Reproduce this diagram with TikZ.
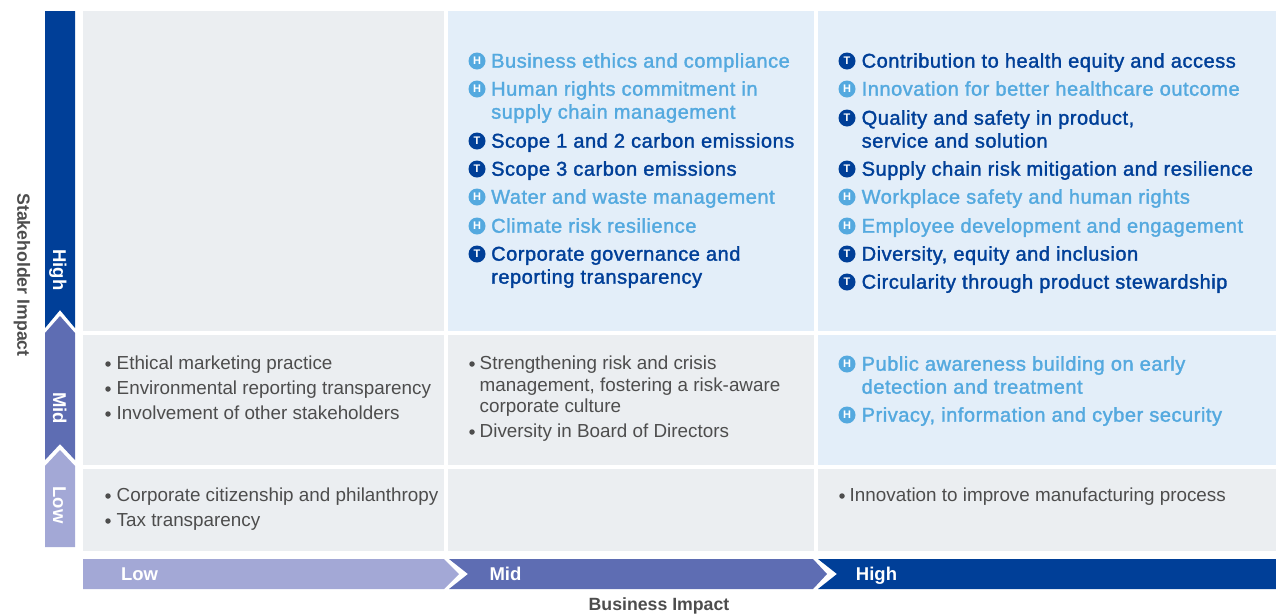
\documentclass[tikz,border=0pt]{standalone}
\usepackage{fontspec}
\setmainfont{Liberation Sans}
\newfontfamily\medfont[FakeBold=1.6, LetterSpace=2.7]{Liberation Sans}
\usepackage{tikz}
\definecolor{deepblue}{HTML}{003F98}
\definecolor{midblue}{HTML}{5E6DB3}
\definecolor{paleblue}{HTML}{A3A8D6}
\definecolor{skyblue}{HTML}{54A9DF}
\definecolor{cellgray}{HTML}{EBEEF1}
\definecolor{cellblue}{HTML}{E3EEF9}
\definecolor{bodygray}{HTML}{4D4D4D}
\tikzstyle{graycell} = [rectangle, anchor=north west, inner sep=0pt, outer sep=0pt, fill=cellgray]
\tikzstyle{bluecell} = [rectangle, anchor=north west, inner sep=0pt, outer sep=0pt, fill=cellblue]
\tikzstyle{hicon} = [circle, fill=skyblue, text=white, minimum size=17pt, inner sep=0pt, font=\fontsize{11}{11}\selectfont\bfseries]
\tikzstyle{ticon} = [circle, fill=deepblue, text=white, minimum size=17pt, inner sep=0pt, font=\fontsize{11}{11}\selectfont\bfseries]
\tikzstyle{hitem} = [anchor=north west, inner sep=0pt, align=left, text=skyblue, font=\fontsize{20}{23}\medfont]
\tikzstyle{titem} = [anchor=north west, inner sep=0pt, align=left, text=deepblue, font=\fontsize{20}{23}\medfont]
\tikzstyle{bitem} = [anchor=north west, inner sep=0pt, align=left, text=bodygray, font=\fontsize{18.85}{21.5}\selectfont]
\tikzstyle{dotmark} = [circle, fill=bodygray, minimum size=5.5pt, inner sep=0pt]
\tikzstyle{barlabel} = [text=white, text height=13pt, text depth=4pt, font=\fontsize{18.5}{18.5}\selectfont\bfseries]
\tikzstyle{axislabel} = [text=bodygray, font=\fontsize{17.7}{17.7}\selectfont\bfseries]
\begin{document}
\begin{tikzpicture}[x=1pt, y=-1pt]
	\useasboundingbox (0,0) rectangle (1276,614);
	% grid of cells
	\node (lowhigh) [graycell, minimum width=361pt, minimum height=320pt] at (83,11) {};
	\node (midhigh) [bluecell, minimum width=366pt, minimum height=320pt] at (448,11) {};
	\node (highhigh) [bluecell, minimum width=458pt, minimum height=320pt] at (818,11) {};
	\node (lowmid) [graycell, minimum width=361pt, minimum height=130pt] at (83,335) {};
	\node (midmid) [graycell, minimum width=366pt, minimum height=130pt] at (448,335) {};
	\node (highmid) [bluecell, minimum width=458pt, minimum height=130pt] at (818,335) {};
	\node (lowlow) [graycell, minimum width=361pt, minimum height=82pt] at (83,469) {};
	\node (midlow) [graycell, minimum width=366pt, minimum height=82pt] at (448,469) {};
	\node (highlow) [graycell, minimum width=458pt, minimum height=82pt] at (818,469) {};
	% stakeholder bar
	\fill[deepblue] (45,11) -- (75,11) -- (75,328) -- (60,310) -- (45,328) -- cycle;
	\fill[midblue] (45,333) -- (60,316) -- (75,333) -- (75,460) -- (60,444) -- (45,460) -- cycle;
	\fill[paleblue] (45,466) -- (60,450) -- (75,466) -- (75,547) -- (45,547) -- cycle;
	\node (sthigh) [barlabel, rotate=-90] at (57.5,270) {High};
	\node (stmid) [barlabel, rotate=-90] at (57.5,408) {Mid};
	\node (stlow) [barlabel, rotate=-90] at (57.5,505) {Low};
	\node (staxis) [axislabel, rotate=-90] at (22,275) {Stakeholder Impact};
	% business bar
	\fill[paleblue] (83,559) -- (444,559) -- (459,574) -- (444,589) -- (83,589) -- cycle;
	\fill[midblue] (449,559) -- (813,559) -- (827,574) -- (813,589) -- (449,589) -- (468,574) -- cycle;
	\fill[deepblue] (818,559) -- (1276,559) -- (1276,589) -- (818,589) -- (837,574) -- cycle;
	\node (bulow) [barlabel] at (139.5,576) {Low};
	\node (bumid) [barlabel] at (505.5,576) {Mid};
	\node (buhigh) [barlabel] at (876.5,576) {High};
	\node (buaxis) [axislabel] at (659,605.5) {Business Impact};
	% middle column, high row
	\node (ma) [hicon] at (477,61) {H};
	\node (mat) [hitem] at (491,53) {Business ethics and compliance};
	\node (mb) [hicon] at (477,89) {H};
	\node (mbt) [hitem] at (491,81) {Human rights commitment in\\supply chain management};
	\node (mc) [ticon] at (477,141) {T};
	\node (mct) [titem] at (491,133) {Scope 1 and 2 carbon emissions};
	\node (md) [ticon] at (477,169) {T};
	\node (mdt) [titem] at (491,161) {Scope 3 carbon emissions};
	\node (me) [hicon] at (477,197) {H};
	\node (met) [hitem] at (491,189) {Water and waste management};
	\node (mf) [hicon] at (477,226) {H};
	\node (mft) [hitem] at (491,218) {Climate risk resilience};
	\node (mg) [ticon] at (477,254) {T};
	\node (mgt) [titem] at (491,246) {Corporate governance and\\reporting transparency};
	% right column, high row
	\node (ra) [ticon] at (847,61) {T};
	\node (rat) [titem] at (861.5,53) {Contribution to health equity and access};
	\node (rb) [hicon] at (847,89) {H};
	\node (rbt) [hitem] at (861.5,81) {Innovation for better healthcare outcome};
	\node (rc) [ticon] at (847,118) {T};
	\node (rct) [titem] at (861.5,110) {Quality and safety in product,\\service and solution};
	\node (rd) [ticon] at (847,169) {T};
	\node (rdt) [titem] at (861.5,161) {Supply chain risk mitigation and resilience};
	\node (re) [hicon] at (847,197) {H};
	\node (ret) [hitem] at (861.5,189) {Workplace safety and human rights};
	\node (rf) [hicon] at (847,226) {H};
	\node (rft) [hitem] at (861.5,218) {Employee development and engagement};
	\node (rg) [ticon] at (847,254) {T};
	\node (rgt) [titem] at (861.5,246) {Diversity, equity and inclusion};
	\node (rh) [ticon] at (847,282) {T};
	\node (rht) [titem] at (861.5,274) {Circularity through product stewardship};
	% right column, mid row
	\node (rm) [hicon] at (847,364) {H};
	\node (rmt) [hitem] at (861.5,356) {Public awareness building on early\\detection and treatment};
	\node (rn) [hicon] at (847,415) {H};
	\node (rnt) [hitem] at (861.5,407) {Privacy, information and cyber security};
	% left column
	\node (la) [dotmark] at (108,364) {};
	\node (lat) [bitem] at (116.5,356) {Ethical marketing practice};
	\node (lb) [dotmark] at (108,389) {};
	\node (lbt) [bitem] at (116.5,381) {Environmental reporting transparency};
	\node (lc) [dotmark] at (108,414) {};
	\node (lct) [bitem] at (116.5,406) {Involvement of other stakeholders};
	\node (ld) [dotmark] at (108,496) {};
	\node (ldt) [bitem] at (116.5,488) {Corporate citizenship and philanthropy};
	\node (le) [dotmark] at (108,521) {};
	\node (let) [bitem] at (116.5,513) {Tax transparency};
	% middle column, mid row
	\node (mm) [dotmark] at (472,364) {};
	\node (mmt) [bitem] at (479.5,356) {Strengthening risk and crisis\\management, fostering a risk-aware\\corporate culture};
	\node (mn) [dotmark] at (472,432) {};
	\node (mnt) [bitem] at (479.5,424) {Diversity in Board of Directors};
	% right column, low row
	\node (rl) [dotmark] at (842,496) {};
	\node (rlt) [bitem] at (849.5,488) {Innovation to improve manufacturing process};
\end{tikzpicture}
\end{document}
